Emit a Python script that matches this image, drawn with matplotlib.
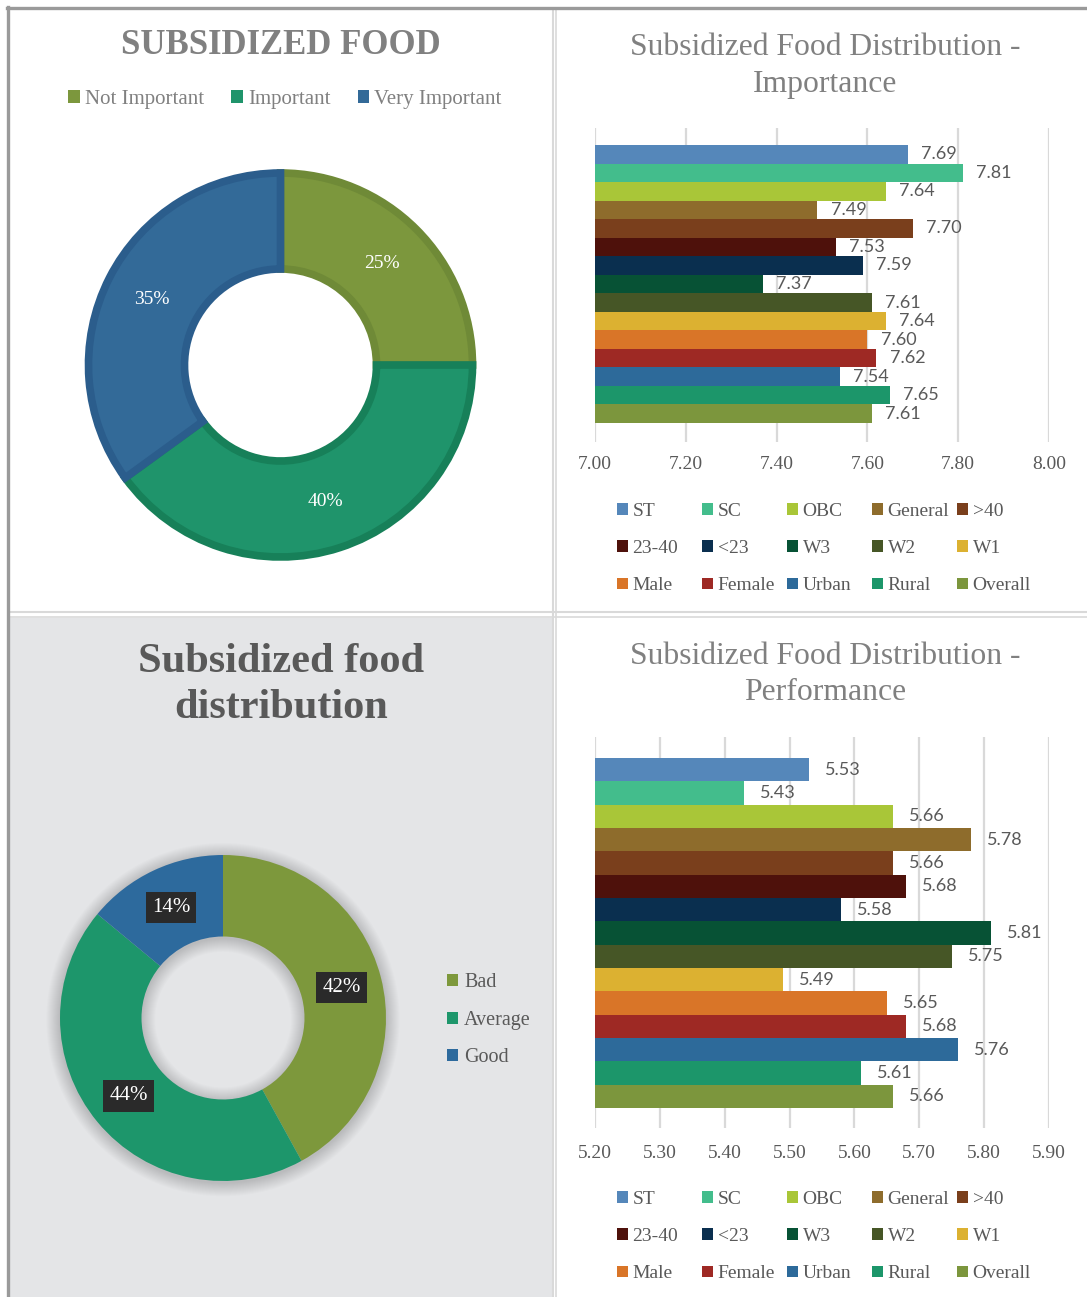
import matplotlib
matplotlib.use("Agg")
import matplotlib.pyplot as plt
from matplotlib.patches import Rectangle, Patch, Wedge
import numpy as np

# ---------------- data ----------------
groups = ["ST", "SC", "OBC", "General", ">40", "23-40", "<23", "W3", "W2", "W1",
          "Male", "Female", "Urban", "Rural", "Overall"]
importance = [7.69, 7.81, 7.64, 7.49, 7.70, 7.53, 7.59, 7.37, 7.61, 7.64,
              7.60, 7.62, 7.54, 7.65, 7.61]
performance = [5.53, 5.43, 5.66, 5.78, 5.66, 5.68, 5.58, 5.81, 5.75, 5.49,
               5.65, 5.68, 5.76, 5.61, 5.66]
imp_ticks = [7.00, 7.20, 7.40, 7.60, 7.80, 8.00]
perf_ticks = [5.20, 5.30, 5.40, 5.50, 5.60, 5.70, 5.80, 5.90]
group_colors = ["#5587ba", "#43bd8c", "#a9c638", "#8e6c2c", "#7a3f1c",
                "#4e110b", "#0a2f4f", "#075235", "#465626", "#dcb131",
                "#d97528", "#9e2924", "#2d6a9a", "#1c966a", "#7c963d"]

imp_levels = ["Not Important", "Important", "Very Important"]
imp_shares = [25, 40, 35]
imp_colors = ["#7c973d", "#1f946b", "#336a98"]
imp_edges = ["#6f8a37", "#178059", "#2b5d8c"]

perf_levels = ["Bad", "Average", "Good"]
perf_shares = [42, 44, 14]
perf_colors = ["#7d983c", "#1d966b", "#2d6a9d"]

# ---------------- figure ----------------
W, H = 1087, 1297
DPI = 100
SERIF = ["Liberation Serif", "DejaVu Serif"]
plt.rcParams["font.family"] = SERIF
GREY = "#595959"
LGREY = "#808080"

fig = plt.figure(figsize=(W / DPI, H / DPI), dpi=DPI)
fig.patch.set_facecolor("white")


def fx(x):
    return x / W


def fy(y):
    return 1 - y / H


def add_axes_px(x0, y0, x1, y1, **kw):
    return fig.add_axes([x0 / W, 1 - y1 / H, (x1 - x0) / W, (y1 - y0) / H], **kw)


# panel backgrounds and borders
bg = fig.add_axes([0, 0, 1, 1], zorder=-10)
bg.set_xlim(0, W)
bg.set_ylim(H, 0)
bg.axis("off")
bg.add_patch(Rectangle((9, 618), 544, H - 618 + 5, facecolor="#e4e5e7", edgecolor="none"))
sep = "#d9d9d9"
bg.plot([553, 553], [9, H], color=sep, lw=1.5)
bg.plot([556, 556], [9, H], color=sep, lw=1.2)
bg.plot([9, W], [612, 612], color=sep, lw=1.5)
bg.plot([9, W], [617, 617], color=sep, lw=1.2)
bg.plot([6.5, W], [7.5, 7.5], color="#9a9a9a", lw=2.4)
bg.plot([7.5, 7.5], [6.5, H], color="#9a9a9a", lw=2.4)

# ---------------- top-left donut ----------------
fig.text(fx(281), fy(46), "SUBSIDIZED FOOD", ha="center", va="center",
         fontsize=25, fontweight="bold", color=LGREY)

R1 = 192
c1 = (280.5, 365)
ax1 = add_axes_px(c1[0] - 1.1 * R1, c1[1] - 1.1 * R1, c1[0] + 1.1 * R1, c1[1] + 1.1 * R1)
w1, _, at1 = ax1.pie(imp_shares, colors=imp_colors, startangle=90, counterclock=False,
                     autopct="%1.0f%%", pctdistance=0.75,
                     wedgeprops=dict(width=0.5, linewidth=5.5),
                     textprops=dict(color="white", fontsize=14, family=SERIF))
for w, ec in zip(w1, imp_edges):
    w.set_edgecolor(ec)
ax1.set_xlim(-1.1, 1.1)
ax1.set_ylim(-1.1, 1.1)
ax1.set_aspect("equal")
ax1.axis("off")
fig.legend(w1, imp_levels, loc="center", bbox_to_anchor=(fx(285), fy(99.5)), ncol=3,
           frameon=False, fontsize=15, handlelength=0.55, handleheight=0.55,
           handletextpad=0.25, columnspacing=1.3, borderpad=0, labelcolor=LGREY)
for h in fig.legends[-1].legend_handles:
    h.set_edgecolor("none")


# ---------------- bar panels ----------------
def bar_panel(x0, y0, x1, y1, values, ticks, pad_top, pad_bot, label_off, tickpad):
    ax = add_axes_px(x0, y0, x1, y1)
    n = len(values)
    ypos = np.arange(n)
    lo = ticks[0]
    ax.barh(ypos, np.array(values) - lo, left=lo, height=1.0, color=group_colors,
            linewidth=0, zorder=2)
    for yi, v in zip(ypos, values):
        ax.annotate(f"{v:.2f}", (v, yi), xytext=(label_off, 0), textcoords="offset points",
                    ha="left", va="center", fontsize=13, color=GREY,
                    family=["Lato", "DejaVu Sans"])
    ax.set_xlim(ticks[0], ticks[-1])
    ax.set_ylim(n - 0.5 + pad_bot, -0.5 - pad_top)
    ax.set_xticks(ticks)
    ax.set_xticklabels([f"{t:.2f}" for t in ticks])
    ax.set_yticks([])
    ax.grid(axis="x", color="#d9d9d9", lw=1.6)
    ax.set_axisbelow(True)
    for s in ax.spines.values():
        s.set_visible(False)
    ax.tick_params(axis="x", length=0, pad=tickpad, labelsize=14, labelcolor=GREY)
    ax.patch.set_alpha(0)
    return ax


def group_legend(x_first, y_top):
    for j in range(5):
        idx = [j, j + 5, j + 10]
        hs = [Patch(facecolor=group_colors[i], edgecolor="none") for i in idx]
        fig.legend(hs, [groups[i] for i in idx], loc="upper left",
                   bbox_to_anchor=(fx(x_first + 85 * j), fy(y_top)), frameon=False,
                   fontsize=14, handlelength=0.55, handleheight=0.55, handletextpad=0.25,
                   labelspacing=1.04, borderpad=0, borderaxespad=0, labelcolor=GREY)


fig.text(fx(825), fy(66), "Subsidized Food Distribution -\nImportance", ha="center",
         va="center", fontsize=22.8, color=LGREY, linespacing=1.36)
bar_panel(595, 128, 1049, 442, importance, imp_ticks, 17 / 18.53, 19 / 18.53, 9.5, 10)
group_legend(617, 503)

fig.text(fx(825), fy(674.5), "Subsidized Food Distribution -\nPerformance", ha="center",
         va="center", fontsize=22.8, color=LGREY, linespacing=1.36)
bar_panel(595, 737, 1049, 1128, performance, perf_ticks, 21 / 23.33, 20 / 23.33, 11.5, 12)
group_legend(617, 1191)

# ---------------- bottom-left donut ----------------
fig.text(fx(281), fy(685), "Subsidized food\ndistribution", ha="center", va="center",
         fontsize=30.5, fontweight="bold", color=GREY, linespacing=1.3)

R2 = 163
c2 = (223, 1018)
ax2 = add_axes_px(c2[0] - 1.2 * R2, c2[1] - 1.2 * R2, c2[0] + 1.2 * R2, c2[1] + 1.2 * R2)
# soft shadow
for k in range(14):
    d = 0.006 * (k + 1)
    ax2.add_patch(Wedge((0.0, -0.01), 1 + d, 0, 360, width=0.5 + 2 * d,
                        facecolor="black", edgecolor="none", alpha=0.01))
w2, _, at2 = ax2.pie(perf_shares, colors=perf_colors, startangle=90, counterclock=False,
                     autopct="%1.0f%%", pctdistance=0.75,
                     wedgeprops=dict(width=0.5, linewidth=0),
                     textprops=dict(color="white", fontsize=15, family=SERIF))
for t in at2:
    t.set_bbox(dict(boxstyle="square,pad=0.3", facecolor="#2a2a2a", edgecolor="none"))
ax2.set_xlim(-1.2, 1.2)
ax2.set_ylim(-1.2, 1.2)
ax2.set_aspect("equal")
ax2.axis("off")
fig.legend(w2, perf_levels, loc="upper left", bbox_to_anchor=(fx(447), fy(973)),
           frameon=False, fontsize=14.5, handlelength=0.55, handleheight=0.55,
           handletextpad=0.3, labelspacing=0.93, borderpad=0, borderaxespad=0,
           labelcolor=GREY)

fig.savefig("out.png", dpi=DPI)
